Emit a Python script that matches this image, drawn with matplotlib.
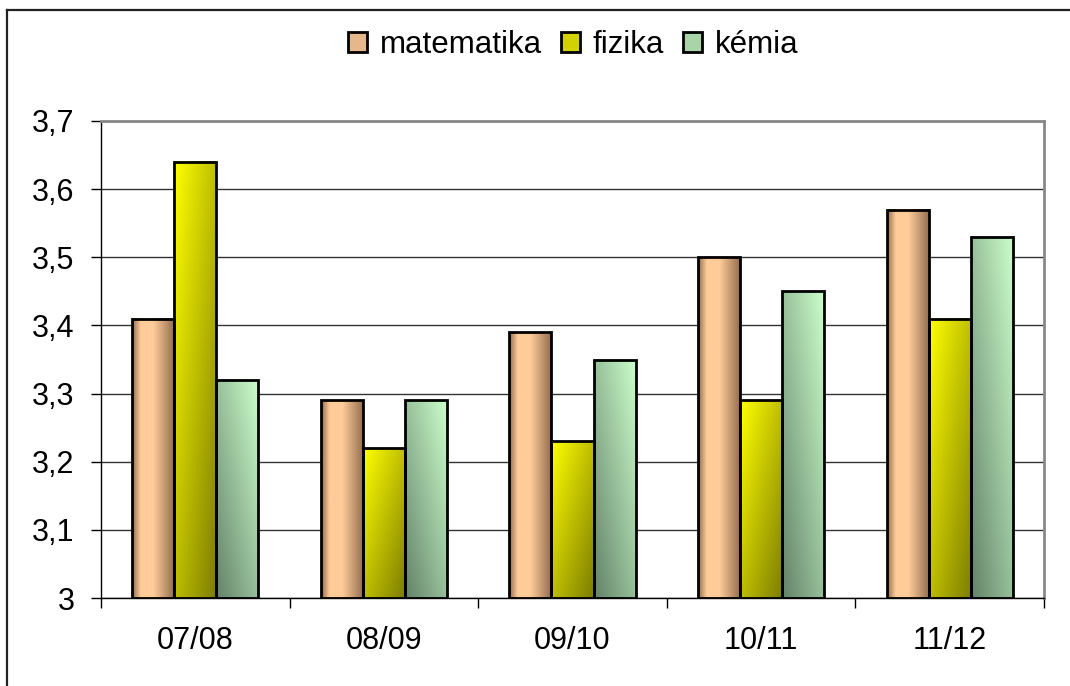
import numpy as np
import matplotlib
matplotlib.use('Agg')
import matplotlib.pyplot as plt
from matplotlib.patches import Rectangle
from matplotlib.lines import Line2D

plt.rcParams['font.family'] = ['Liberation Sans', 'DejaVu Sans']

# Data
categories = ['07/08', '08/09', '09/10', '10/11', '11/12']
series_names = ['matematika', 'fizika', 'kémia']
matematika = [3.41, 3.29, 3.39, 3.50, 3.57]
fizika = [3.64, 3.22, 3.23, 3.29, 3.41]
kemia = [3.32, 3.29, 3.35, 3.45, 3.53]
yticks = [3.0, 3.1, 3.2, 3.3, 3.4, 3.5, 3.6, 3.7]
ytick_labels = ['3', '3,1', '3,2', '3,3', '3,4', '3,5', '3,6', '3,7']


def gradient(kind, n=64):
    """ Build an RGB gradient image (rows bottom -> top) for one bar """
    u, v = np.meshgrid(np.linspace(0, 1, n), np.linspace(0, 1, n))
    if kind == 'matematika':
        light = np.array([255, 204, 153]) / 255
        dark = np.array([145, 108, 78]) / 255
        t = np.interp(u, [0, 0.2, 0.5, 1.0], [0.0, 1.0, 1.0, 0.0])
    elif kind == 'fizika':
        light = np.array([255, 255, 0]) / 255
        dark = np.array([125, 125, 0]) / 255
        t = 1 - (u + (1 - v)) / 2
    else:
        light = np.array([204, 255, 204]) / 255
        dark = np.array([100, 130, 105]) / 255
        t = 1 - ((1 - u) + (1 - v)) / 2
    t = t[..., None]
    return dark + (light - dark) * t


mid_colors = ['#e6b78a', '#d2d200', '#a8d4a8']

fig = plt.figure(figsize=(10.7, 6.86), dpi=100)
ax = fig.add_axes([101 / 1070, 88 / 686, (1044 - 101) / 1070, (598 - 121) / 686])

width = 0.223
offsets = [-width, 0, width]
x = np.arange(len(categories)) + 0.5
for name, vals, off in zip(series_names, [matematika, fizika, kemia], offsets):
    img = gradient(name)
    for xi, val in zip(x, vals):
        x0 = xi + off - width / 2
        ax.imshow(img, extent=[x0, x0 + width, 3.0, val], origin='lower',
                  aspect='auto', zorder=2, interpolation='bilinear')
        ax.add_patch(Rectangle((x0, 3.0), width, val - 3.0, facecolor='none',
                               edgecolor='black', lw=2, zorder=3))

ax.set_xlim(0, len(categories))
ax.set_ylim(3.0, 3.7)
ax.set_yticks(yticks)
ax.set_yticklabels(ytick_labels)
ax.set_xticks(np.arange(len(categories) + 1))
ax.set_xticklabels([])
ax.set_xticks(x, minor=True)
ax.set_xticklabels(categories, minor=True)
ax.tick_params(axis='x', which='minor', length=0, pad=20, labelsize=22)
ax.tick_params(axis='x', which='major', length=7, width=1, direction='out')
ax.tick_params(axis='y', length=7, width=1, direction='out', pad=12, labelsize=22)

ax.grid(axis='y', color='#333333', lw=1, zorder=1)
ax.set_axisbelow(True)
for side in ['top', 'right']:
    ax.spines[side].set_color('#888888')
    ax.spines[side].set_linewidth(2)
for side in ['left', 'bottom']:
    ax.spines[side].set_color('black')
    ax.spines[side].set_linewidth(1)

# Legend
handles = [Rectangle((0, 0), 1, 1, facecolor=c, edgecolor='black', lw=2)
           for c in mid_colors]
fig.legend(handles, series_names, loc='center', bbox_to_anchor=(573 / 1070, 1 - 45 / 686),
           ncol=3, frameon=False, fontsize=22.5, handlelength=0.62, handleheight=0.62,
           handletextpad=0.4, columnspacing=0.6)

# Outer chart border (only left and top visible)
fig.add_artist(Line2D([6.5 / 1070, 6.5 / 1070], [0, 1 - 9.5 / 686], color='#222222', lw=1.6))
fig.add_artist(Line2D([6.5 / 1070, 1], [1 - 9.5 / 686, 1 - 9.5 / 686], color='#222222', lw=1.6))

fig.savefig('out.png', dpi=100)
